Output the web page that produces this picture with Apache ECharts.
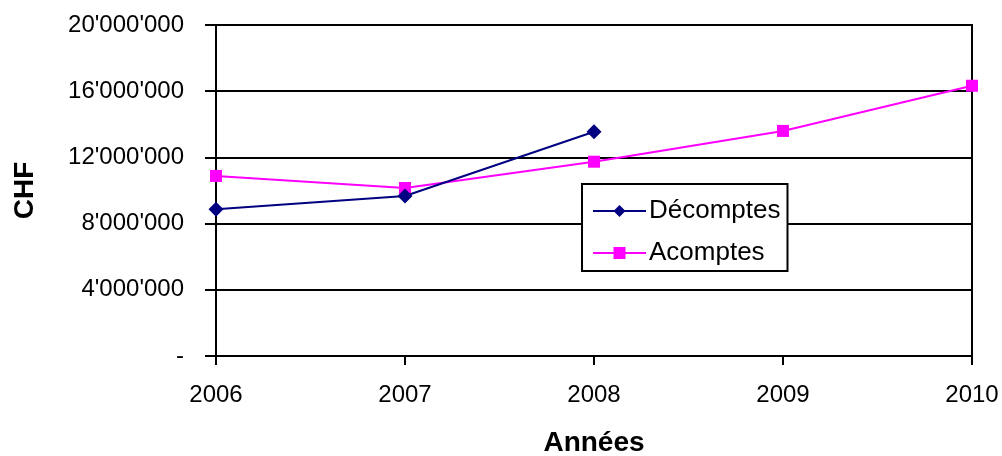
<!DOCTYPE html>
<html>
<head>
<meta charset="utf-8">
<script src="https://cdn.jsdelivr.net/npm/echarts@6/dist/echarts.min.js"></script>
<style>
  html, body { margin: 0; padding: 0; background: #fff; }
  #chart { width: 1002px; height: 456px; }
</style>
</head>
<body>
<div id="chart"></div>
<script>
// Années (catégories de l'axe horizontal)
const years = ['2006', '2007', '2008', '2009', '2010'];
// Montants en CHF
const decomptes = [8860000, 9670000, 13550000, null, null];
const acomptes = [10880000, 10150000, 11740000, 13600000, 16330000];
// Graduations de l'axe vertical
const yTicks = [0, 4000000, 8000000, 12000000, 16000000, 20000000];

const FONT = '"Liberation Sans", Arial, sans-serif';

function swissFormat(v) {
  if (v === 0) return '-';
  return String(Math.round(v)).replace(/\B(?=(\d{3})+(?!\d))/g, "'");
}

const chart = echarts.init(document.getElementById('chart'), null, { renderer: 'canvas' });

chart.setOption({
  animation: false,
  backgroundColor: '#ffffff',
  textStyle: { fontFamily: FONT },
  grid: {
    left: 216, right: 30, top: 25, bottom: 100,
    outerBoundsMode: 'none',
    containLabel: false,
    show: true, borderColor: '#000', borderWidth: 2, backgroundColor: '#fff'
  },
  legend: {
    orient: 'vertical',
    left: 582, top: 184,
    padding: [14, 7, 5, 10],
    itemGap: 16,
    itemWidth: 53, itemHeight: 15,
    backgroundColor: '#fff',
    borderColor: '#000', borderWidth: 2, borderRadius: 0,
    textStyle: { fontFamily: FONT, fontSize: 26, color: '#000', padding: [0, 0, 0, -2] },
    data: ['Décomptes', 'Acomptes']
  },
  xAxis: {
    type: 'category',
    data: years,
    boundaryGap: false,
    name: 'Années',
    nameLocation: 'middle',
    nameGap: 73,
    nameTextStyle: { fontFamily: FONT, fontSize: 28, fontWeight: 'bold', color: '#000' },
    axisLine: { lineStyle: { color: '#000', width: 2 } },
    axisTick: { alignWithLabel: true, length: 9, lineStyle: { color: '#000', width: 2 } },
    axisLabel: { fontFamily: FONT, fontSize: 24, color: '#000', margin: 27 },
    splitLine: { show: false }
  },
  yAxis: {
    type: 'value',
    min: yTicks[0],
    max: yTicks[yTicks.length - 1],
    interval: yTicks[1] - yTicks[0],
    name: 'CHF',
    nameLocation: 'middle',
    nameGap: 177,
    nameTextStyle: { fontFamily: FONT, fontSize: 28, fontWeight: 'bold', color: '#000' },
    axisLine: { show: true, lineStyle: { color: '#000', width: 2 } },
    axisTick: { show: true, inside: false, length: 11, lineStyle: { color: '#000', width: 2 } },
    axisLabel: { fontFamily: FONT, fontSize: 24, color: '#000', margin: 32, formatter: swissFormat },
    splitLine: { show: true, lineStyle: { color: '#000', width: 2 } }
  },
  series: [
    {
      name: 'Décomptes',
      type: 'line',
      data: decomptes,
      connectNulls: false,
      symbol: 'diamond',
      symbolSize: 15,
      lineStyle: { color: '#000080', width: 2 },
      itemStyle: { color: '#000080' },
      z: 3
    },
    {
      name: 'Acomptes',
      type: 'line',
      data: acomptes,
      symbol: 'rect',
      symbolSize: 12,
      lineStyle: { color: '#ff00ff', width: 2 },
      itemStyle: { color: '#ff00ff' },
      z: 2
    }
  ]
});
</script>
</body>
</html>
